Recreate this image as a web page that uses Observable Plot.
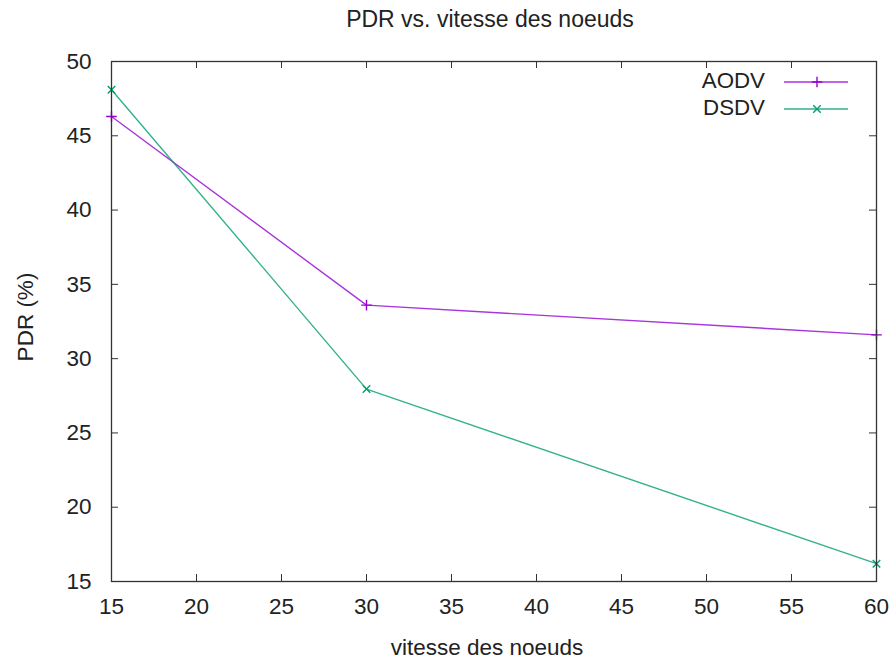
<!DOCTYPE html>
<html>
<head>
<meta charset="utf-8">
<script src="https://cdn.jsdelivr.net/npm/d3@7"></script>
<script src="https://cdn.jsdelivr.net/npm/@observablehq/plot@0.6"></script>
<style>
  html, body { margin: 0; padding: 0; background: #fff; }
  #wrap { position: relative; width: 894px; height: 661px; font-family: "Liberation Sans", Arial, sans-serif; color: #222; }
</style>
</head>
<body>
<div id="wrap"></div>
<script>
// ---- data ----
const speeds = [15, 30, 60];
const aodv = [46.3, 33.6, 31.6];
const dsdv = [48.1, 27.95, 16.2];
const seriesNames = ["AODV", "DSDV"];
const seriesColors = ["#9400d3", "#009e73"];
const xTicks = [15, 20, 25, 30, 35, 40, 45, 50, 55, 60];
const yTicks = [15, 20, 25, 30, 35, 40, 45, 50];
const titleText = "PDR vs. vitesse des noeuds";
const xLabel = "vitesse des noeuds";
const yLabel = "PDR (%)";

const rows = [];
[aodv, dsdv].forEach((vals, i) => {
  speeds.forEach((s, j) => rows.push({serie: seriesNames[i], x: s, y: vals[j]}));
});

const color = {domain: seriesNames, range: seriesColors};

const innerX = xTicks.slice(1, -1);
const innerY = yTicks.slice(1, -1);
const tx = 7 / 17;      // tick length in data units (x)
const ty = 7 / 14.86;   // tick length in data units (y)
const FONT = "'Liberation Sans', Arial, sans-serif";

const chart = Plot.plot({
  width: 894,
  height: 661,
  marginLeft: 111,
  marginRight: 18,
  marginTop: 61,
  marginBottom: 80,
  style: {fontFamily: FONT, fontSize: "22.5px", color: "#222", background: "#fff"},
  x: {domain: [15, 60]},
  y: {domain: [15, 50]},
  color,
  marks: [
    Plot.axisX(xTicks, {tickSize: 0, tickPadding: 17, label: null, fontSize: 22.5, fill: "#222"}),
    Plot.axisY(yTicks, {tickSize: 0, tickPadding: 20, label: null, fontSize: 22.5, fill: "#222"}),
    // inward mirrored ticks
    Plot.ruleX(innerX, {x: d => d, y1: 15, y2: 15 + ty, stroke: "#333"}),
    Plot.ruleX(innerX, {x: d => d, y1: 50, y2: 50 - ty, stroke: "#333"}),
    Plot.ruleY(innerY, {y: d => d, x1: 15, x2: 15 + tx, stroke: "#333"}),
    Plot.ruleY(innerY, {y: d => d, x1: 60, x2: 60 - tx, stroke: "#333"}),
    Plot.line(rows, {x: "x", y: "y", z: "serie", stroke: "serie", strokeWidth: 1.4, strokeOpacity: 0.8}),
    Plot.dot(rows, {x: "x", y: "y", symbol: d => d.serie === "AODV" ? "plus" : "times", stroke: "serie", r: 3.5, strokeWidth: 1.4}),
    Plot.frame({stroke: "#333", strokeWidth: 1.3})
  ]
});

const wrap = document.getElementById("wrap");
wrap.appendChild(chart);
chart.style.position = "absolute";
chart.style.left = "0px";
chart.style.top = "0px";

// overlay: title, axis labels, legend
const ov = d3.select(wrap).append("svg")
  .attr("width", 894).attr("height", 661)
  .style("position", "absolute").style("left", "0px").style("top", "0px")
  .style("pointer-events", "none")
  .attr("font-family", FONT).attr("fill", "#222");

ov.append("text").attr("x", 490).attr("y", 27).attr("text-anchor", "middle")
  .attr("font-size", 23).text(titleText);
ov.append("text").attr("x", 487).attr("y", 655).attr("text-anchor", "middle")
  .attr("font-size", 22.5).text(xLabel);
ov.append("text").attr("transform", "translate(33,317) rotate(-90)").attr("text-anchor", "middle")
  .attr("font-size", 22.5).text(yLabel);

const ly = [82, 109];
seriesNames.forEach((name, i) => {
  ov.append("text").attr("x", 765).attr("y", ly[i] + 6)
    .attr("text-anchor", "end").attr("font-size", 22.3).text(name);
  ov.append("line").attr("x1", 784).attr("x2", 848).attr("y1", ly[i]).attr("y2", ly[i])
    .attr("stroke", seriesColors[i]).attr("stroke-width", 1.4).attr("stroke-opacity", 0.8);
  const sym = d3.symbol().type(i === 0 ? d3.symbolPlus : d3.symbolTimes).size(Math.PI * 3.5 * 3.5);
  ov.append("path").attr("d", sym()).attr("transform", `translate(817,${ly[i]})`)
    .attr("fill", "none").attr("stroke", seriesColors[i]).attr("stroke-width", 1.4);
});
</script>
</body>
</html>
